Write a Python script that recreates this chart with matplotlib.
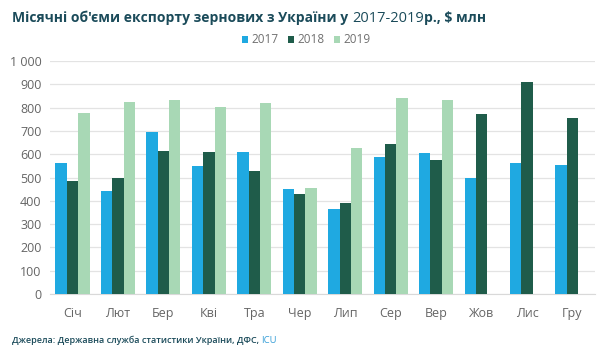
import matplotlib
matplotlib.use("Agg")
import matplotlib.pyplot as plt
import numpy as np
from matplotlib.ticker import FuncFormatter

months = ["Січ", "Лют", "Бер", "Кві", "Тра", "Чер", "Лип", "Сер", "Вер", "Жов", "Лис", "Гру"]
v2017 = [562, 442, 694, 548, 608, 451, 367, 588, 605, 500, 562, 552]
v2018 = [487, 500, 614, 611, 528, 429, 390, 644, 576, 773, 910, 755]
v2019 = [779, 825, 834, 805, 818, 455, 627, 841, 833, None, None, None]
series = [("2017", v2017, "#1fa9e1"), ("2018", v2018, "#1f5c4a"), ("2019", v2019, "#a8d8b5")]

plt.rcParams['font.family'] = ['Open Sans', 'DejaVu Sans']
fig = plt.figure(figsize=(6.0, 3.53), dpi=100)
ax = fig.add_axes([0.083, 0.167, 0.909, 0.66])

x = np.arange(len(months))
w = 0.25
for i, (lab, vals, col) in enumerate(series):
    xs = [xi + (i - 1) * w for xi, v in zip(x, vals) if v is not None]
    ys = [v for v in vals if v is not None]
    ax.bar(xs, ys, width=w, color=col, label=lab, zorder=3)

ax.set_xlim(-0.5, len(months) - 0.5)
ax.set_ylim(0, 1000)
ax.set_yticks(range(0, 1001, 100))
ax.yaxis.set_major_formatter(FuncFormatter(lambda v, p: f"{int(v):,}".replace(",", " ")))
ax.set_xticks(x)
ax.set_xticklabels(months)
ax.grid(axis='y', color='#e3e3e3', linewidth=0.9, zorder=0)
ax.set_axisbelow(True)
for s in ['top', 'right', 'left']:
    ax.spines[s].set_visible(False)
ax.spines['bottom'].set_color('#d9d9d9')
ax.tick_params(axis='both', length=0, labelsize=9, colors='#656565')
ax.tick_params(axis='x', pad=9)
ax.tick_params(axis='y', pad=6)

leg = fig.legend(loc='center', bbox_to_anchor=(0.51, 0.887), ncol=3, frameon=False,
                 fontsize=8.5, handlelength=0.55, handleheight=0.55, handletextpad=0.25,
                 columnspacing=0.8, labelcolor='#707070')

title_col = '#1b4b5a'
ty = 0.937
t1 = fig.text(0.02, ty, "Місячні об'єми експорту зернових з України у ", fontsize=10,
              fontweight='bold', color=title_col, va='baseline')
t2 = fig.text(0, 0, "2017-2019", fontsize=10.5, color=title_col, va='baseline')
t3 = fig.text(0, 0, "р., $ млн", fontsize=10, fontweight='bold', color=title_col, va='baseline')
fig.canvas.draw()
r = fig.canvas.get_renderer()
bb1 = t1.get_window_extent(r)
t2.set_position(((bb1.x1) / fig.bbox.width, ty))
bb2 = t2.get_window_extent(r)
t3.set_position(((bb2.x1) / fig.bbox.width, ty))

fy = 0.027
f1 = fig.text(0.02, fy, "Джерела: Державна служба статистики України, ДФС, ", fontsize=6.5,
              color=title_col, va='baseline', fontweight='semibold')
fig.canvas.draw()
bbf = f1.get_window_extent(r)
fig.text(bbf.x1 / fig.bbox.width, fy, "ICU", fontsize=6.8, color='#3aa0d8', va='baseline')

fig.savefig("out.png", dpi=100)
